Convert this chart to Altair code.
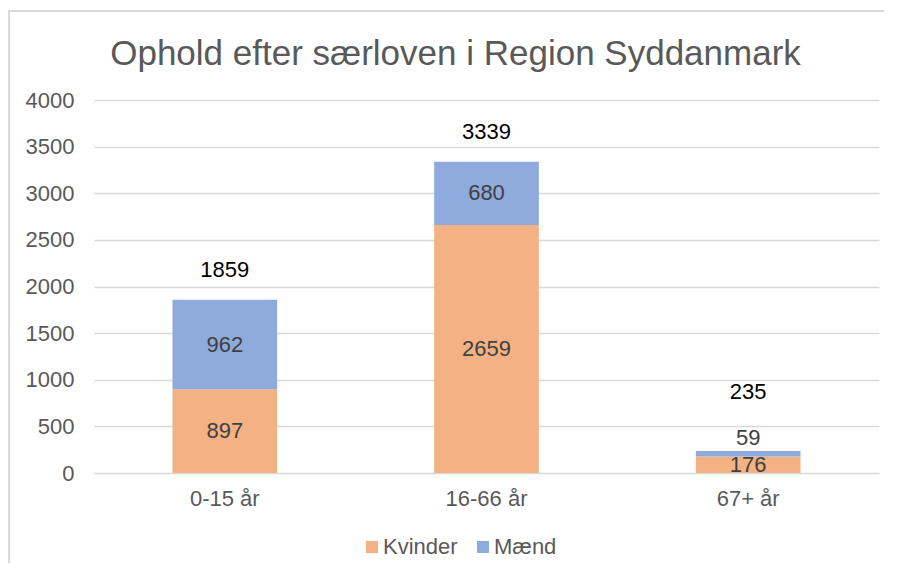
import altair as alt
import pandas as pd

categories = ["0-15 år", "16-66 år", "67+ år"]
series = ["Kvinder", "Mænd"]
kvinder = [897, 2659, 176]
maend = [962, 680, 59]
y_ticks = [0, 500, 1000, 1500, 2000, 2500, 3000, 3500, 4000]

FONT = "Liberation Sans"
W, H = 785, 373
ORANGE, BLUE = "#F4B183", "#8FAADC"

rows = []
for c, k, m in zip(categories, kvinder, maend):
    total = k + m
    rows.append(dict(cat=c, serie="Kvinder", value=k, lo=0, hi=k, mid=k / 2,
                     total=total, small=False, order=0))
    rows.append(dict(cat=c, serie="Mænd", value=m, lo=k, hi=total, mid=k + m / 2,
                     total=total, small=m < 150, order=1))
df = pd.DataFrame(rows)
tot = df.groupby("cat", sort=False).agg(total=("total", "first"), small=("small", "max")).reset_index()

xenc = alt.X("cat:N", sort=categories,
             scale=alt.Scale(paddingInner=0.6, paddingOuter=0.3),
             axis=alt.Axis(title=None, labelAngle=0, ticks=False, tickSize=0, domain=False,
                           labelPadding=15, labelFontSize=22, labelColor="#595959",
                           labelFont=FONT, grid=False))
yscale = alt.Scale(domain=[0, 4000], nice=False)

bars = alt.Chart(df).mark_bar().encode(
    x=xenc,
    y=alt.Y("lo:Q", scale=yscale,
            axis=alt.Axis(title=None, values=y_ticks, format="d", ticks=False, tickSize=0,
                          domain=False, labelPadding=20, labelFontSize=22, labelColor="#595959",
                          labelFont=FONT, grid=True, gridColor="#D9D9D9", gridWidth=1.5)),
    y2="hi:Q",
    color=alt.Color("serie:N", scale=alt.Scale(domain=series, range=[ORANGE, BLUE]),
                    legend=alt.Legend(title=None, orient="none", direction="horizontal",
                                      legendX=267, legendY=436, symbolType="square",
                                      symbolSize=144, symbolStrokeWidth=0, labelFontSize=22,
                                      labelColor="#595959", labelFont=FONT, labelOffset=0,
                                      columnPadding=14, padding=0)),
    order="order:Q",
)

inner = alt.Chart(df).transform_filter("!datum.small").mark_text(
    fontSize=22, font=FONT, color="#404040", baseline="middle"
).encode(x=alt.X("cat:N", sort=categories), y=alt.Y("mid:Q", scale=yscale), text="value:Q")

above = alt.Chart(df).transform_filter("datum.small").mark_text(
    fontSize=22, font=FONT, color="#404040", baseline="middle", dy=-13
).encode(x=alt.X("cat:N", sort=categories), y=alt.Y("hi:Q", scale=yscale), text="value:Q")

tot_norm = alt.Chart(tot).transform_filter("!datum.small").mark_text(
    fontSize=22, font=FONT, color="#000000", baseline="middle", dy=-30
).encode(x=alt.X("cat:N", sort=categories), y=alt.Y("total:Q", scale=yscale), text="total:Q")

tot_high = alt.Chart(tot).transform_filter("datum.small").mark_text(
    fontSize=22, font=FONT, color="#000000", baseline="middle", dy=-59
).encode(x=alt.X("cat:N", sort=categories), y=alt.Y("total:Q", scale=yscale), text="total:Q")

frame = pd.DataFrame({"a": [0]})
left_border = alt.Chart(frame).mark_rule(color="#D9D9D9", strokeWidth=2).encode(
    x=alt.value(-85), y=alt.value(-89), y2=alt.value(H + 90))
top_border = alt.Chart(frame).mark_rule(color="#D9D9D9", strokeWidth=2).encode(
    x=alt.value(-86), x2=alt.value(W + 5), y=alt.value(-89))

chart = alt.layer(left_border, top_border, bars, inner, above, tot_norm, tot_high).properties(
    width=W, height=H,
    title=alt.TitleParams("Ophold efter særloven i Region Syddanmark", font=FONT, fontSize=35,
                          fontWeight="normal", color="#595959", anchor="middle", frame="group",
                          baseline="alphabetic", offset=-90, dx=-31),
    autosize=alt.AutoSizeParams(type="none"),
    padding={"left": 86, "top": 92, "right": 5, "bottom": 90},
    background="white",
).configure_view(stroke=None)

chart.save("out.html", embed_options={"renderer": "svg", "actions": False})
